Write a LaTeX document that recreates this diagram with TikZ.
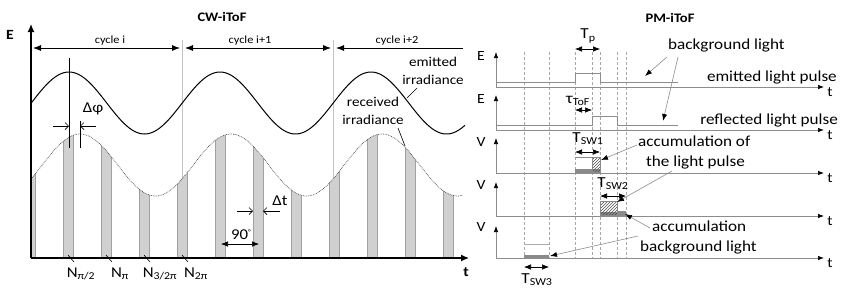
\documentclass[tikz,border=0pt]{standalone}
\usepackage{fontspec}
\setmainfont{Carlito}[FakeStretch=1.12]
\usetikzlibrary{arrows.meta,patterns}
\definecolor{axgray}{HTML}{8C8C8C}
\definecolor{dashgray}{HTML}{A8A8A8}
\definecolor{barfill}{HTML}{D0D0D0}
\definecolor{bardraw}{HTML}{A0A0A0}
\definecolor{cyclegray}{HTML}{C4C4C4}
\definecolor{accgray}{HTML}{8A8A8A}
\newcommand\fCW{\fontsize{13.5}{17.5}\selectfont}
\newcommand\fPM{\fontsize{15.3}{19}\selectfont}
\newcommand\fN{\fontsize{15}{18}\selectfont}
\newcommand\fTi{\fontsize{13}{16}\selectfont\bfseries}
\newcommand\fCy{\fontsize{11}{13}\selectfont}
\newcommand\fAx{\fontsize{14}{16}\selectfont}
\begin{document}
\begin{tikzpicture}[x=1pt,y=-1pt,
  txt/.style={inner sep=0pt},
  cwaxis/.style={draw=black,line width=1.3pt,-{Latex[length=8pt,width=7pt]}},
  pmaxis/.style={draw=axgray,line width=0.7pt,-{Latex[length=6pt,width=4.5pt,color=black]},shorten >=-1pt},
  cyc/.style={draw=black,line width=0.8pt},
  barb/.style={draw=black,line width=0.7pt,-{Straight Barb[length=3.5pt,width=7pt]}},
  dim/.style={draw=black,line width=0.6pt,{Latex[length=7pt,width=5.5pt]}-{Latex[length=7pt,width=5.5pt]}},
  pulse/.style={draw=axgray,line width=0.7pt},
  vdash/.style={draw=dashgray,line width=0.5pt,dash pattern=on 3pt off 2pt},
  lead/.style={draw=axgray,line width=0.6pt,-{Latex[length=7pt,width=5pt,color=black]}},
  plain/.style={draw=black,line width=0.6pt},
  hbox/.style={draw=accgray,line width=0.5pt,pattern=north east lines,pattern color=black!70}
]
\useasboundingbox (0,0) rectangle (847,293);

% ================= CW-iToF =================
\node[txt,font=\fTi] (cwtitle) at (222,17) {CW-iToF};

% cycle separators
\draw[cyclegray,line width=0.8pt] (182,40) -- (182,258);
\draw[cyclegray,line width=0.8pt] (333,40) -- (333,258);

% sampling bars under received curve
\begin{scope}
\clip (31,258) -- plot[domain=31:463,samples=160] (\x,{165-31*sin(2.38411*(\x-42.25))}) -- (463,258) -- cycle;
\foreach \k in {0,...,11}{
  \filldraw[fill=barfill,draw=bardraw,line width=0.6pt] ({25+38*\k},110) rectangle ({35+38*\k},258);
}
\end{scope}

% emitted & received curves
\draw[black,line width=1pt] plot[domain=31:465,samples=200] (\x,{103-31*sin(2.38411*(\x-31.25))});
\draw[black!75,line width=0.7pt,densely dotted] plot[domain=31:463,samples=200] (\x,{165-31*sin(2.38411*(\x-42.25))});

% axes
\coordinate (cwo) at (31,258);
\coordinate (cwtop) at (31,24);
\coordinate (cwright) at (469,258);
\draw[cwaxis] (cwo) -- (cwtop);
\draw[cwaxis] (cwo) -- (cwright);
\node[txt,font=\fAx\bfseries] (cwE) at (10,35) {E};
\node[txt,font=\fAx\bfseries] (cwt) at (466,272) {t};

% cycle arrows
\coordinate (c1a) at (33,48); \coordinate (c1b) at (180,48);
\coordinate (c2a) at (185,48); \coordinate (c2b) at (331,48);
\coordinate (c3a) at (336,48); \coordinate (c3b) at (463,48);
\draw[cyc,{Latex[length=8pt,width=6pt]}-{Latex[length=8pt,width=6pt]}] (c1a) -- (c1b);
\draw[cyc,{Latex[length=8pt,width=6pt]}-{Latex[length=8pt,width=6pt]}] (c2a) -- (c2b);
\draw[cyc,{Latex[length=8pt,width=6pt]}-] (c3a) -- (c3b);
\node[txt,font=\fCy] (cy1) at (110,41) {cycle i};
\node[txt,font=\fCy] (cy2) at (250,41) {cycle i+1};
\node[txt,font=\fCy] (cy3) at (397,41) {cycle i+2};

% labels for curves
\node[txt,font=\fCW,align=center] (emitlab) at (433,71) {emitted\\irradiance};
\node[txt,font=\fCW,align=center] (reclab) at (373,111) {received\\irradiance};
\coordinate (el1) at (417,88); \coordinate (el2) at (407,98);
\draw[plain] (el1) -- (el2);
\coordinate (rl1) at (398,128); \coordinate (rl2) at (405,146);
\draw[plain] (rl1) -- (rl2);

% delta phi
\coordinate (pk1) at (69,58); \coordinate (pk1b) at (69,148);
\coordinate (pk2) at (80,121); \coordinate (pk2b) at (80,148);
\draw[plain] (pk1) -- (pk1b);
\draw[plain] (pk2) -- (pk2b);
\coordinate (dp1) at (53,126); \coordinate (dp1e) at (69,126);
\coordinate (dp2) at (96,126); \coordinate (dp2e) at (80,126);
\draw[barb] (dp1) -- (dp1e);
\draw[barb] (dp2) -- (dp2e);
\node[txt,font=\fN] (dphi) at (93,109) {Δφ};

% delta t
\coordinate (dt1) at (237,211); \coordinate (dt1e) at (253,211);
\coordinate (dt2) at (280,211); \coordinate (dt2e) at (263,211);
\draw[barb] (dt1) -- (dt1e);
\draw[barb] (dt2) -- (dt2e);
\node[txt,font=\fN] (dtl) at (280,201) {Δt};

% 90 deg
\coordinate (n1) at (221,244); \coordinate (n2) at (259,244);
\draw[dim] (n1) -- (n2);
\node[txt,font=\fN] (nin) at (241,235) {90\raisebox{5pt}{\fontsize{7}{8}\selectfont °}};

% N ticks and labels
\foreach \cx/\nm in {68/a,106/b,144/c,182/d}{
  \coordinate (tk\nm) at (\cx,255);
  \coordinate (tke\nm) at (\cx+6,262);
  \draw[plain] (tk\nm) -- (tke\nm);
}
\node[txt,font=\fN] (Na) at (81,274) {N\textsubscript{π/2}};
\node[txt,font=\fN] (Nb) at (120,274) {N\textsubscript{π}};
\node[txt,font=\fN] (Nc) at (160,274) {N\textsubscript{3/2π}};
\node[txt,font=\fN] (Nd) at (196,274) {N\textsubscript{2π}};

% ================= PM-iToF =================
\node[txt,font=\fTi] (pmtitle) at (670,18) {PM-iToF};

% dashed verticals
\foreach \dx in {524,549,575,592,600,617,626}{
  \draw[vdash] (\dx,52) -- (\dx,258);
}

% axes
\foreach \by/\ty/\lab/\nm in {87/53/E/a,130/96/E/b,173/139/V/c,216/183/V/d,258/227/V/e}{
  \coordinate (o\nm) at (496,\by);
  \coordinate (up\nm) at (496,\ty);
  \coordinate (rt\nm) at (823,\by);
  \draw[pmaxis] (o\nm) -- (up\nm);
  \draw[pmaxis] (o\nm) -- (rt\nm);
  \node[txt,font=\fAx] (lab\nm) at (481,\by-31) {\lab};
  \node[txt,font=\fAx] (t\nm) at (830,\by+5) {t};
}

% emitted pulse
\draw[pulse] (496,82) -- (575,82) -- (575,73) -- (600,73) -- (600,82) -- (678,82);
% reflected pulse
\draw[pulse] (496,125) -- (592,125) -- (592,116) -- (617,116) -- (617,125) -- (678,125);

% Tp
\coordinate (tp1) at (575,49); \coordinate (tp2) at (600,49);
\draw[dim] (tp1) -- (tp2);
\node[txt,font=\fPM] (tpl) at (588,36) {T\textsubscript{p}};
% tau ToF
\coordinate (ta1) at (575,110); \coordinate (ta2) at (592,110);
\draw[dim] (ta1) -- (ta2);
\node[txt,font=\fPM] (tal) at (578,101) {τ\textsubscript{ToF}};

% panel 3 (TSW1)
\draw[accgray,line width=0.5pt] (575,157) -- (600,157);
\fill[accgray] (575,169) rectangle (600,172.5);
\path[hbox] (592,157.5) rectangle (600,172);
\coordinate (s1a) at (575,152); \coordinate (s1b) at (600,152);
\draw[dim] (s1a) -- (s1b);
\node[txt,font=\fPM] (s1l) at (588,139) {T\textsubscript{SW1}};

% panel 4 (TSW2)
\fill[accgray] (600,211.5) rectangle (626,215.5);
\path[hbox] (600,201) rectangle (617,215);
\draw[accgray,line width=0.5pt] (617,211.5) -- (626,211.5);
\coordinate (s2a) at (600,196); \coordinate (s2b) at (626,196);
\draw[dim] (s2a) -- (s2b);
\node[txt,font=\fPM] (s2l) at (613,184) {T\textsubscript{SW2}};

% panel 5 (TSW3)
\draw[accgray!70,line width=0.5pt] (524,244) -- (549,244);
\fill[accgray] (524,254.5) rectangle (549,258);
\coordinate (s3a) at (524,267); \coordinate (s3b) at (549,267);
\draw[dim] (s3a) -- (s3b);
\node[txt,font=\fPM] (s3l) at (537,280) {T\textsubscript{SW3}};

% text labels
\node[txt,font=\fPM,anchor=west] (bgl) at (668,45) {background light};
\node[txt,font=\fPM,anchor=east] (eml) at (837,77) {emitted light pulse};
\node[txt,font=\fPM,anchor=east] (rfl) at (838,120) {reflected light pulse};
\node[txt,font=\fPM,anchor=west] (acc1) at (638,141) {accumulation of};
\node[txt,font=\fPM,anchor=west] (acc2) at (646,162) {the light pulse};
\node[txt,font=\fPM,anchor=west] (acc3) at (652,226) {accumulation};
\node[txt,font=\fPM,anchor=west] (acc4) at (640,247) {background light};

% leader arrows
\coordinate (bg1s) at (667,57); \coordinate (bg1e) at (645,76);
\coordinate (bg2s) at (678,57); \coordinate (bg2e) at (663,121);
\draw[lead] (bg1s) -- (bg1e);
\draw[lead] (bg2s) -- (bg2e);
\coordinate (a1s) at (637,145); \coordinate (a1e) at (601,160);
\draw[lead] (a1s) -- (a1e);
\coordinate (a2s) at (672,171); \coordinate (a2e) at (617,202);
\draw[lead] (a2s) -- (a2e);
\coordinate (a3s) at (650,228); \coordinate (a3e) at (625,214);
\draw[lead] (a3s) -- (a3e);
\coordinate (a4s) at (638,236); \coordinate (a4e) at (550,256);
\draw[lead] (a4s) -- (a4e);

\end{tikzpicture}
\end{document}
